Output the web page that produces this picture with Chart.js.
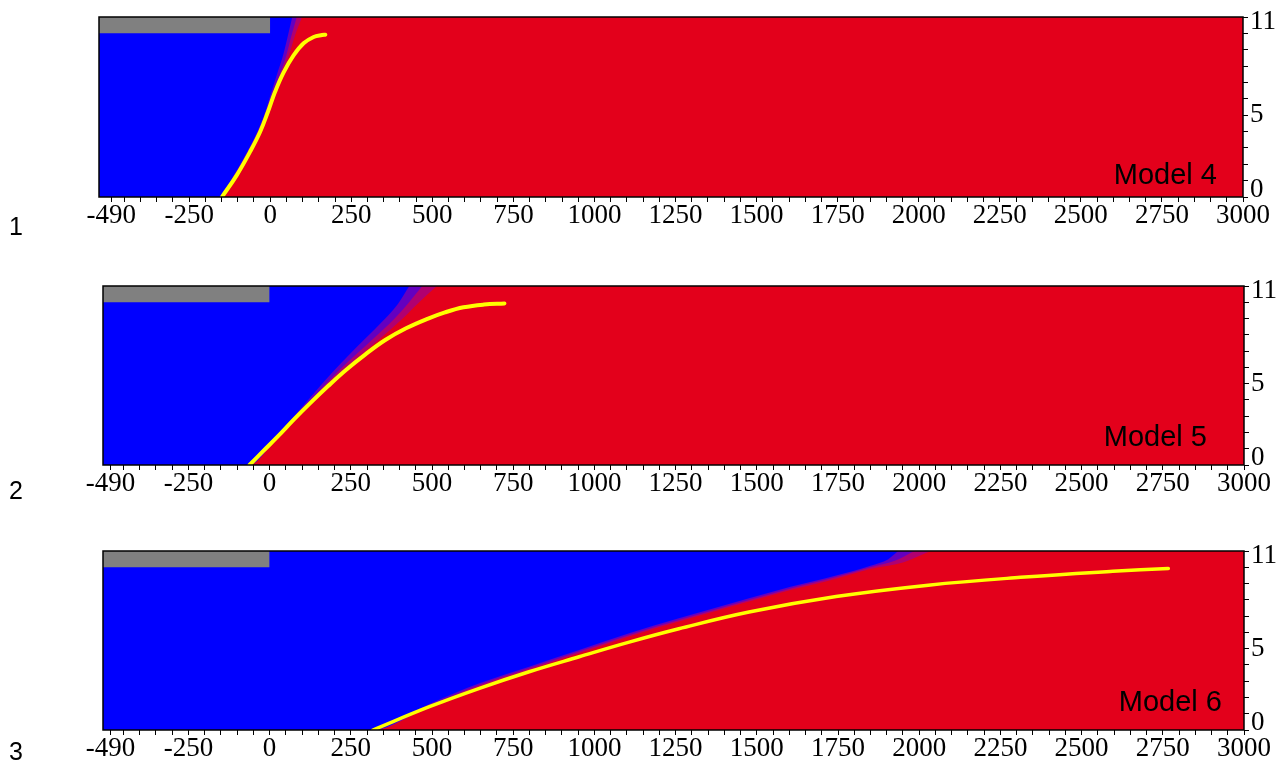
<!DOCTYPE html>
<html>
<head>
<meta charset="utf-8">
<script src="https://cdn.jsdelivr.net/npm/chart.js@4/dist/chart.umd.min.js"></script>
<style>
  html, body { margin: 0; padding: 0; background: #fff; overflow: hidden; }
  body { width: 1284px; height: 772px; position: relative; }
  .panel { position: absolute; left: 0; }
  .num, .model { position: absolute; font-family: "Liberation Sans", Arial, sans-serif; color: #000; white-space: nowrap; }
  .num { font-size: 25px; line-height: 25px; left: 9px; }
  .model { font-size: 29px; line-height: 29px; }
</style>
</head>
<body>
<div class="panel" style="top:0px"><canvas id="c1" width="1284" height="242"></canvas></div>
<div class="panel" style="top:269px"><canvas id="c2" width="1284" height="241"></canvas></div>
<div class="panel" style="top:534px"><canvas id="c3" width="1284" height="241"></canvas></div>

<div class="num" style="top:214px">1</div>
<div class="num" style="top:478px">2</div>
<div class="num" style="top:739px">3</div>

<div class="model" style="right:67px;top:160px">Model 4</div>
<div class="model" style="right:77px;top:422px">Model 5</div>
<div class="model" style="right:62px;top:687px">Model 6</div>

<script>
// axis labels
const xLabels = [-490, -250, 0, 250, 500, 750, 1000, 1250, 1500, 1750, 2000, 2250, 2500, 2750, 3000];
const yLabels = [0, 5, 11];
const xMax = 3000;
const yMin = 0;
const yMax = 11;

// gray block (land surface) : from left edge to x=0, between these depths
const landRight = 0;
const landBottom = 10;

// Model 4
const m4Interface = [[-149, 0], [-103, 1.34], [-62, 2.77], [-31, 3.99], [-7, 5.21], [15, 6.43], [41, 7.6],
  [72, 8.65], [103, 9.39], [134, 9.78], [160, 9.9], [170, 9.92]];
const m4Fresh = [[-528, 0], [-153, 0], [-112, 1.34], [-71, 2.77], [-40, 3.99], [-15, 5.21], [4, 6.43],
  [22, 7.56], [40, 8.68], [55, 9.9], [68, 11]];
const m4MixA = [[-528, 0], [-151, 0], [-110, 1.34], [-68, 2.77], [-37, 3.99], [-11, 5.21], [10, 6.43],
  [31, 7.56], [50, 8.68], [66, 9.9], [82, 11]];
const m4MixB = [[-528, 0], [-150, 0], [-107, 1.34], [-65, 2.77], [-34, 3.99], [-7, 5.21], [15, 6.43],
  [37, 7.56], [58, 8.68], [77, 9.9], [98, 11]];

// Model 5
const m5Interface = [[-62, 0], [-20, 0.85], [26, 1.77], [75, 2.8], [125, 3.8], [180, 4.85], [235, 5.84],
  [295, 6.8], [356, 7.68], [420, 8.4], [488, 9.0], [540, 9.38], [597, 9.69], [660, 9.86], [723, 9.93]];
const m5Fresh = [[-513, 0], [-66, 0], [22, 1.77], [110, 3.8], [200, 5.84], [290, 7.68], [356, 9.0],
  [395, 9.9], [430, 11]];
const m5MixA = [[-513, 0], [-64, 0], [24, 1.77], [118, 3.8], [215, 5.84], [315, 7.68], [385, 9.0],
  [425, 9.9], [470, 11]];
const m5MixB = [[-513, 0], [-63, 0], [26, 1.77], [124, 3.8], [228, 5.84], [335, 7.68], [410, 9.0],
  [455, 9.9], [515, 11]];

// Model 6
const m6Interface = [[318, 0], [492, 1.43], [646, 2.56], [799, 3.58], [953, 4.5], [1107, 5.4], [1260, 6.22],
  [1476, 7.25], [1744, 8.2], [2028, 8.9], [2312, 9.38], [2596, 9.75], [2767, 9.93]];
const m6Fresh = [[-513, 0], [314, 0], [492, 1.6], [646, 2.87], [799, 3.89], [953, 4.92], [1107, 5.94],
  [1260, 6.86], [1476, 8.09], [1604, 8.8], [1744, 9.5], [1850, 10.1], [1905, 10.5], [1935, 11]];
const m6MixA = [[-513, 0], [316, 0], [492, 1.5], [646, 2.77], [799, 3.79], [953, 4.82], [1107, 5.84],
  [1260, 6.76], [1476, 7.99], [1604, 8.7], [1744, 9.4], [1850, 10.0], [1925, 10.4], [1985, 11]];
const m6MixB = [[-513, 0], [318, 0], [492, 1.45], [646, 2.67], [799, 3.69], [953, 4.72], [1107, 5.74],
  [1260, 6.66], [1476, 7.89], [1604, 8.6], [1744, 9.3], [1850, 9.9], [1950, 10.3], [2035, 11]];

const panels = [
  { id: 'c1', xMin: -528, left: 99, yWidth: 41, iface: m4Interface, fresh: m4Fresh, mixA: m4MixA, mixB: m4MixB, lineW: 4 },
  { id: 'c2', xMin: -513, left: 103, yWidth: 40, iface: m5Interface, fresh: m5Fresh, mixA: m5MixA, mixB: m5MixB, lineW: 4 },
  { id: 'c3', xMin: -513, left: 103, yWidth: 40, iface: m6Interface, fresh: m6Fresh, mixA: m6MixA, mixB: m6MixB, lineW: 3.5 }
];

// minor tick positions
const xTickValues = [-490];
for (let v = -450; v <= xMax; v += 50) xTickValues.push(v);
const yTickValues = [];
for (let v = yMin; v <= yMax; v++) yTickValues.push(v);

const pts = a => a.map(([x, y]) => ({ x, y }));

// box around the plot area
const framePlugin = {
  id: 'frame',
  afterDatasetsDraw(chart) {
    const { ctx, chartArea: a } = chart;
    ctx.save();
    ctx.strokeStyle = '#000';
    ctx.lineWidth = 1.5;
    ctx.strokeRect(a.left, a.top, a.right - a.left, a.bottom - a.top);
    ctx.restore();
  }
};

const tickFont = { family: 'Liberation Serif', size: 27, lineHeight: 1 };

// end labels of the depth axis sit inside the frame: pad them with an empty line
function yLabel(v) {
  if (!yLabels.includes(v)) return '';
  if (v === yMax) return ['', String(v)];
  if (v === yMin) return [String(v), ''];
  return String(v);
}
function yFont(ctx) {
  const v = ctx.tick ? ctx.tick.value : null;
  let lh = 1;
  if (v === yMax) lh = 0.37;
  if (v === yMin) lh = 0.52;
  return { family: 'Liberation Serif', size: 27, lineHeight: lh };
}

function areaSet(data, color) {
  return {
    data: pts(data), borderWidth: 0, pointRadius: 0, fill: 'end',
    backgroundColor: color, cubicInterpolationMode: 'monotone'
  };
}

function makeChart(p) {
  return new Chart(document.getElementById(p.id), {
    type: 'line',
    data: {
      datasets: [
        { // interface line, drawn on top
          data: pts(p.iface), borderColor: '#ffff00', borderWidth: p.lineW, pointRadius: 0,
          fill: false, tension: 0.4, borderCapStyle: 'round'
        },
        areaSet([[p.xMin, landBottom], [landRight, landBottom]], '#808080'),
        areaSet(p.fresh, '#0000ff'),
        areaSet(p.mixA, '#6400c0'),
        areaSet(p.mixB, '#b00070'),
        areaSet([[p.xMin, yMin], [xMax, yMin]], '#e3001b')
      ]
    },
    options: {
      responsive: false,
      animation: false,
      events: [],
      layout: { padding: { left: p.left, top: 17, right: 0, bottom: 0 } },
      plugins: { legend: { display: false }, tooltip: { enabled: false } },
      scales: {
        x: {
          type: 'linear', position: 'bottom', min: p.xMin, max: xMax,
          afterBuildTicks: s => { s.ticks = xTickValues.map(v => ({ value: v })); },
          afterFit: s => { s.height = 45; },
          ticks: {
            autoSkip: false, maxRotation: 0, padding: 0, color: '#000', font: tickFont,
            callback: v => xLabels.includes(v) ? String(v) : ''
          },
          grid: { drawOnChartArea: false, tickLength: 5, color: '#000', lineWidth: 1 },
          border: { display: false }
        },
        y: {
          type: 'linear', position: 'right', min: yMin, max: yMax,
          afterBuildTicks: s => { s.ticks = yTickValues.map(v => ({ value: v })); },
          afterFit: s => { s.width = p.yWidth; },
          ticks: {
            autoSkip: false, padding: 2, color: '#000', font: yFont,
            callback: yLabel
          },
          grid: { drawOnChartArea: false, tickLength: 5, color: '#000', lineWidth: 1 },
          border: { display: false }
        }
      }
    },
    plugins: [framePlugin]
  });
}

panels.forEach(makeChart);
</script>
</body>
</html>
